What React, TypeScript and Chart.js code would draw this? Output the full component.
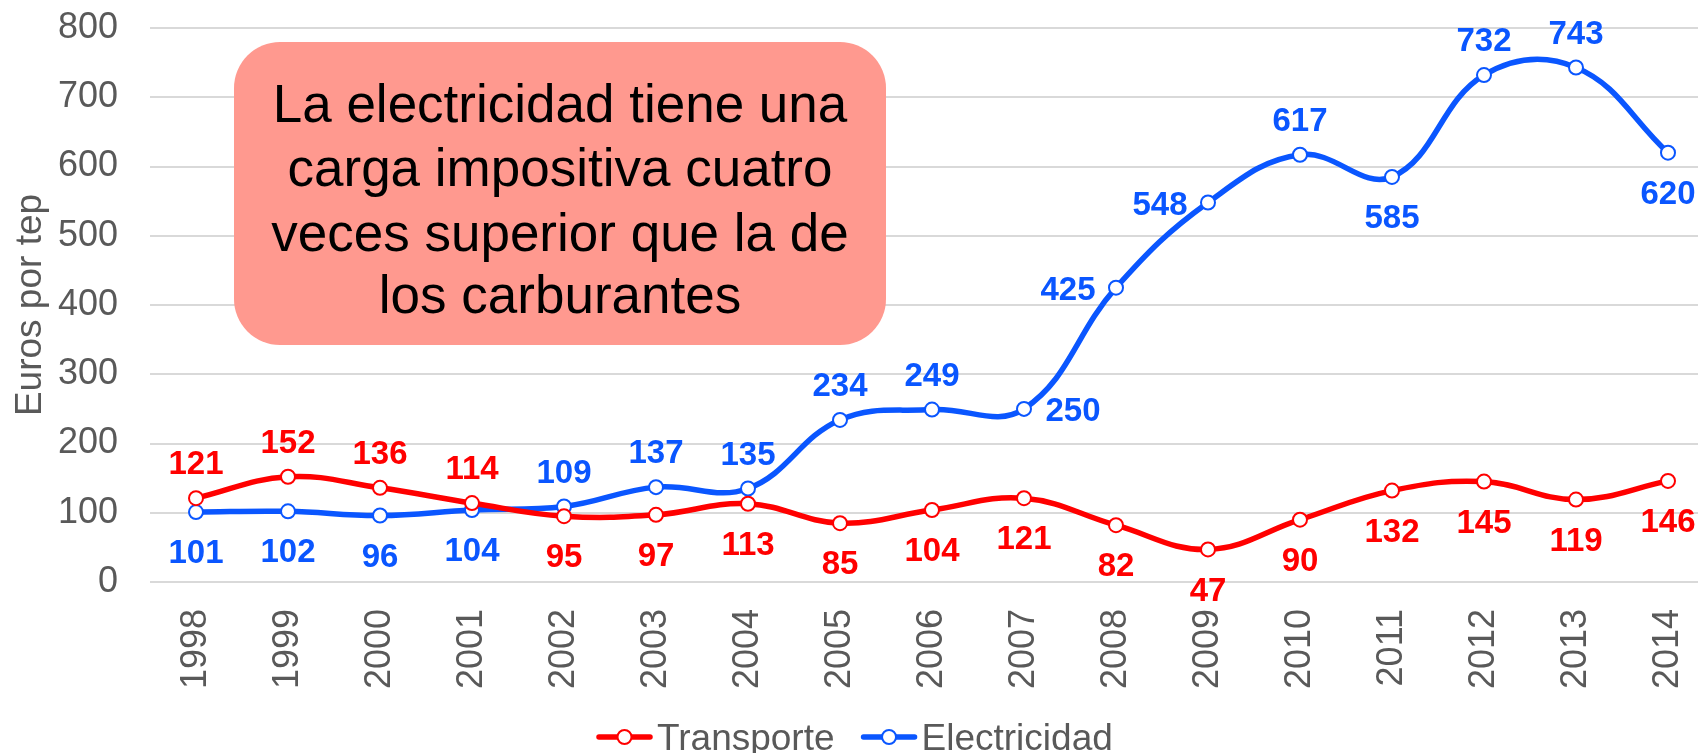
import React, { useEffect, useRef } from 'react';
import { Chart, registerables } from 'chart.js';

Chart.register(...registerables);

// ---------- data ----------
const years = ['1998', '1999', '2000', '2001', '2002', '2003', '2004', '2005', '2006', '2007', '2008', '2009', '2010', '2011', '2012', '2013', '2014'];
const transporte = [121, 152, 136, 114, 95, 97, 113, 85, 104, 121, 82, 47, 90, 132, 145, 119, 146];
const electricidad = [101, 102, 96, 104, 109, 137, 135, 234, 249, 250, 425, 548, 617, 585, 732, 743, 620];
const transporteLabelPos = ['above', 'above', 'above', 'above', 'below', 'below', 'below', 'below', 'below', 'below', 'below', 'below', 'below', 'below', 'below', 'below', 'below'];
const electricidadLabelPos = ['below', 'below', 'below', 'below', 'above', 'above', 'above', 'above', 'above', 'right', 'left', 'left', 'above', 'below', 'above', 'above', 'below'];
const seriesNames = ['Transporte', 'Electricidad'];
const yAxisTitle = 'Euros por tep';
const noteLines = ['La electricidad tiene una', 'carga impositiva cuatro', 'veces superior que la de', 'los carburantes'];

// ---------- style ----------
const RED = '#FF0000';
const BLUE = '#0A56FF';
const GREY = '#595959';
const FONT = "'Liberation Sans', Arial, sans-serif";

const labelOffsets: Record<string, [number, number]> = {
  above: [0, -33],
  below: [0, 42],
  right: [49, 3],
  left: [-48, 3],
};

const dataLabelPlugin = {
  id: 'dataLabelPlugin',
  afterDatasetsDraw(chart: any) {
    const ctx = chart.ctx;
    const posLists = [transporteLabelPos, electricidadLabelPos];
    ctx.save();
    ctx.font = `bold 33px ${FONT}`;
    ctx.textAlign = 'center';
    ctx.textBaseline = 'middle';
    chart.data.datasets.forEach((ds: any, di: number) => {
      const meta = chart.getDatasetMeta(di);
      ctx.fillStyle = ds.borderColor;
      meta.data.forEach((pt: any, i: number) => {
        const [dx, dy] = labelOffsets[posLists[di][i]];
        ctx.fillText(String(ds.data[i]), pt.x + dx, pt.y + dy);
      });
    });
    ctx.restore();
  },
};

const notePlugin = {
  id: 'notePlugin',
  beforeDatasetsDraw(chart: any) {
    const ctx = chart.ctx;
    const x0 = 234, y0 = 42, x1 = 886, y1 = 345, r = 46;
    ctx.save();
    ctx.fillStyle = '#FF998F';
    ctx.beginPath();
    ctx.roundRect(x0, y0, x1 - x0, y1 - y0, r);
    ctx.fill();
    ctx.fillStyle = '#000000';
    ctx.font = `53px ${FONT}`;
    ctx.textAlign = 'center';
    ctx.textBaseline = 'alphabetic';
    const baselines = [122, 186, 251, 313];
    noteLines.forEach((line, i) => ctx.fillText(line, (x0 + x1) / 2, baselines[i]));
    ctx.restore();
  },
};

const legendPlugin = {
  id: 'customLegend',
  afterDraw(chart: any) {
    const ctx = chart.ctx;
    ctx.save();
    ctx.font = `37px ${FONT}`;
    ctx.textBaseline = 'alphabetic';
    ctx.textAlign = 'left';
    let x = 599;
    const lineY = 737;
    const baseY = 750;
    chart.data.datasets.forEach((ds: any, i: number) => {
      ctx.strokeStyle = ds.borderColor;
      ctx.lineWidth = 5.5;
      ctx.lineCap = 'round';
      ctx.beginPath();
      ctx.moveTo(x, lineY);
      ctx.lineTo(x + 51, lineY);
      ctx.stroke();
      ctx.beginPath();
      ctx.arc(x + 25.5, lineY, 7, 0, Math.PI * 2);
      ctx.fillStyle = '#FFFFFF';
      ctx.fill();
      ctx.lineWidth = 2;
      ctx.stroke();
      ctx.fillStyle = GREY;
      const text = seriesNames[i];
      ctx.fillText(text, x + 58, baseY);
      x = x + 58 + ctx.measureText(text).width + 29;
    });
    ctx.restore();
  },
};

export default function App() {
  const ref = useRef<HTMLCanvasElement | null>(null);

  useEffect(() => {
    if (!ref.current) return;
    Chart.defaults.font.family = FONT;
    const mkDs = (label: string, data: number[], color: string) => ({
      label,
      data,
      borderColor: color,
      backgroundColor: color,
      borderWidth: 5.5,
      tension: 0.4,
      pointRadius: 7,
      pointBorderWidth: 2,
      pointBackgroundColor: '#FFFFFF',
      pointBorderColor: color,
      fill: false,
    });
    const chart = new Chart(ref.current, {
      type: 'line',
      data: {
        labels: years,
        datasets: [
          mkDs(seriesNames[0], transporte, RED),
          mkDs(seriesNames[1], electricidad, BLUE),
        ],
      },
      options: {
        animation: false,
        responsive: false,
        maintainAspectRatio: false,
        layout: { padding: { top: 28, right: 26, left: 0, bottom: 0 } },
        plugins: {
          legend: { display: false },
          tooltip: { enabled: false },
        },
        scales: {
          x: {
            offset: true,
            grid: { display: false, drawTicks: false },
            border: { display: false },
            ticks: {
              color: GREY,
              font: { size: 36, family: FONT },
              minRotation: 90,
              maxRotation: 90,
              padding: 27,
              autoSkip: false,
            },
            afterFit(scale: any) {
              scale.height = 171;
            },
          },
          y: {
            min: 0,
            max: 800,
            grid: { color: '#D9D9D9', lineWidth: 2, drawTicks: false },
            border: { display: false },
            ticks: {
              stepSize: 100,
              color: GREY,
              font: { size: 36, family: FONT },
              padding: 32,
            },
            title: {
              display: true,
              text: yAxisTitle,
              color: GREY,
              font: { size: 37, family: FONT },
              padding: { top: 9, bottom: 0 },
            },
            afterFit(scale: any) {
              scale.width = 150;
              scale.paddingTop = 0;
              scale.paddingBottom = 0;
            },
          },
        },
      },
      plugins: [notePlugin, dataLabelPlugin, legendPlugin],
    } as any);
    return () => chart.destroy();
  }, []);

  return (
    <div style={{ position: 'fixed', left: 0, top: 0, width: 1698, height: 753, overflow: 'hidden', background: '#FFFFFF' }}>
      <canvas ref={ref} width={1740} height={753} style={{ display: 'block' }} />
    </div>
  );
}
